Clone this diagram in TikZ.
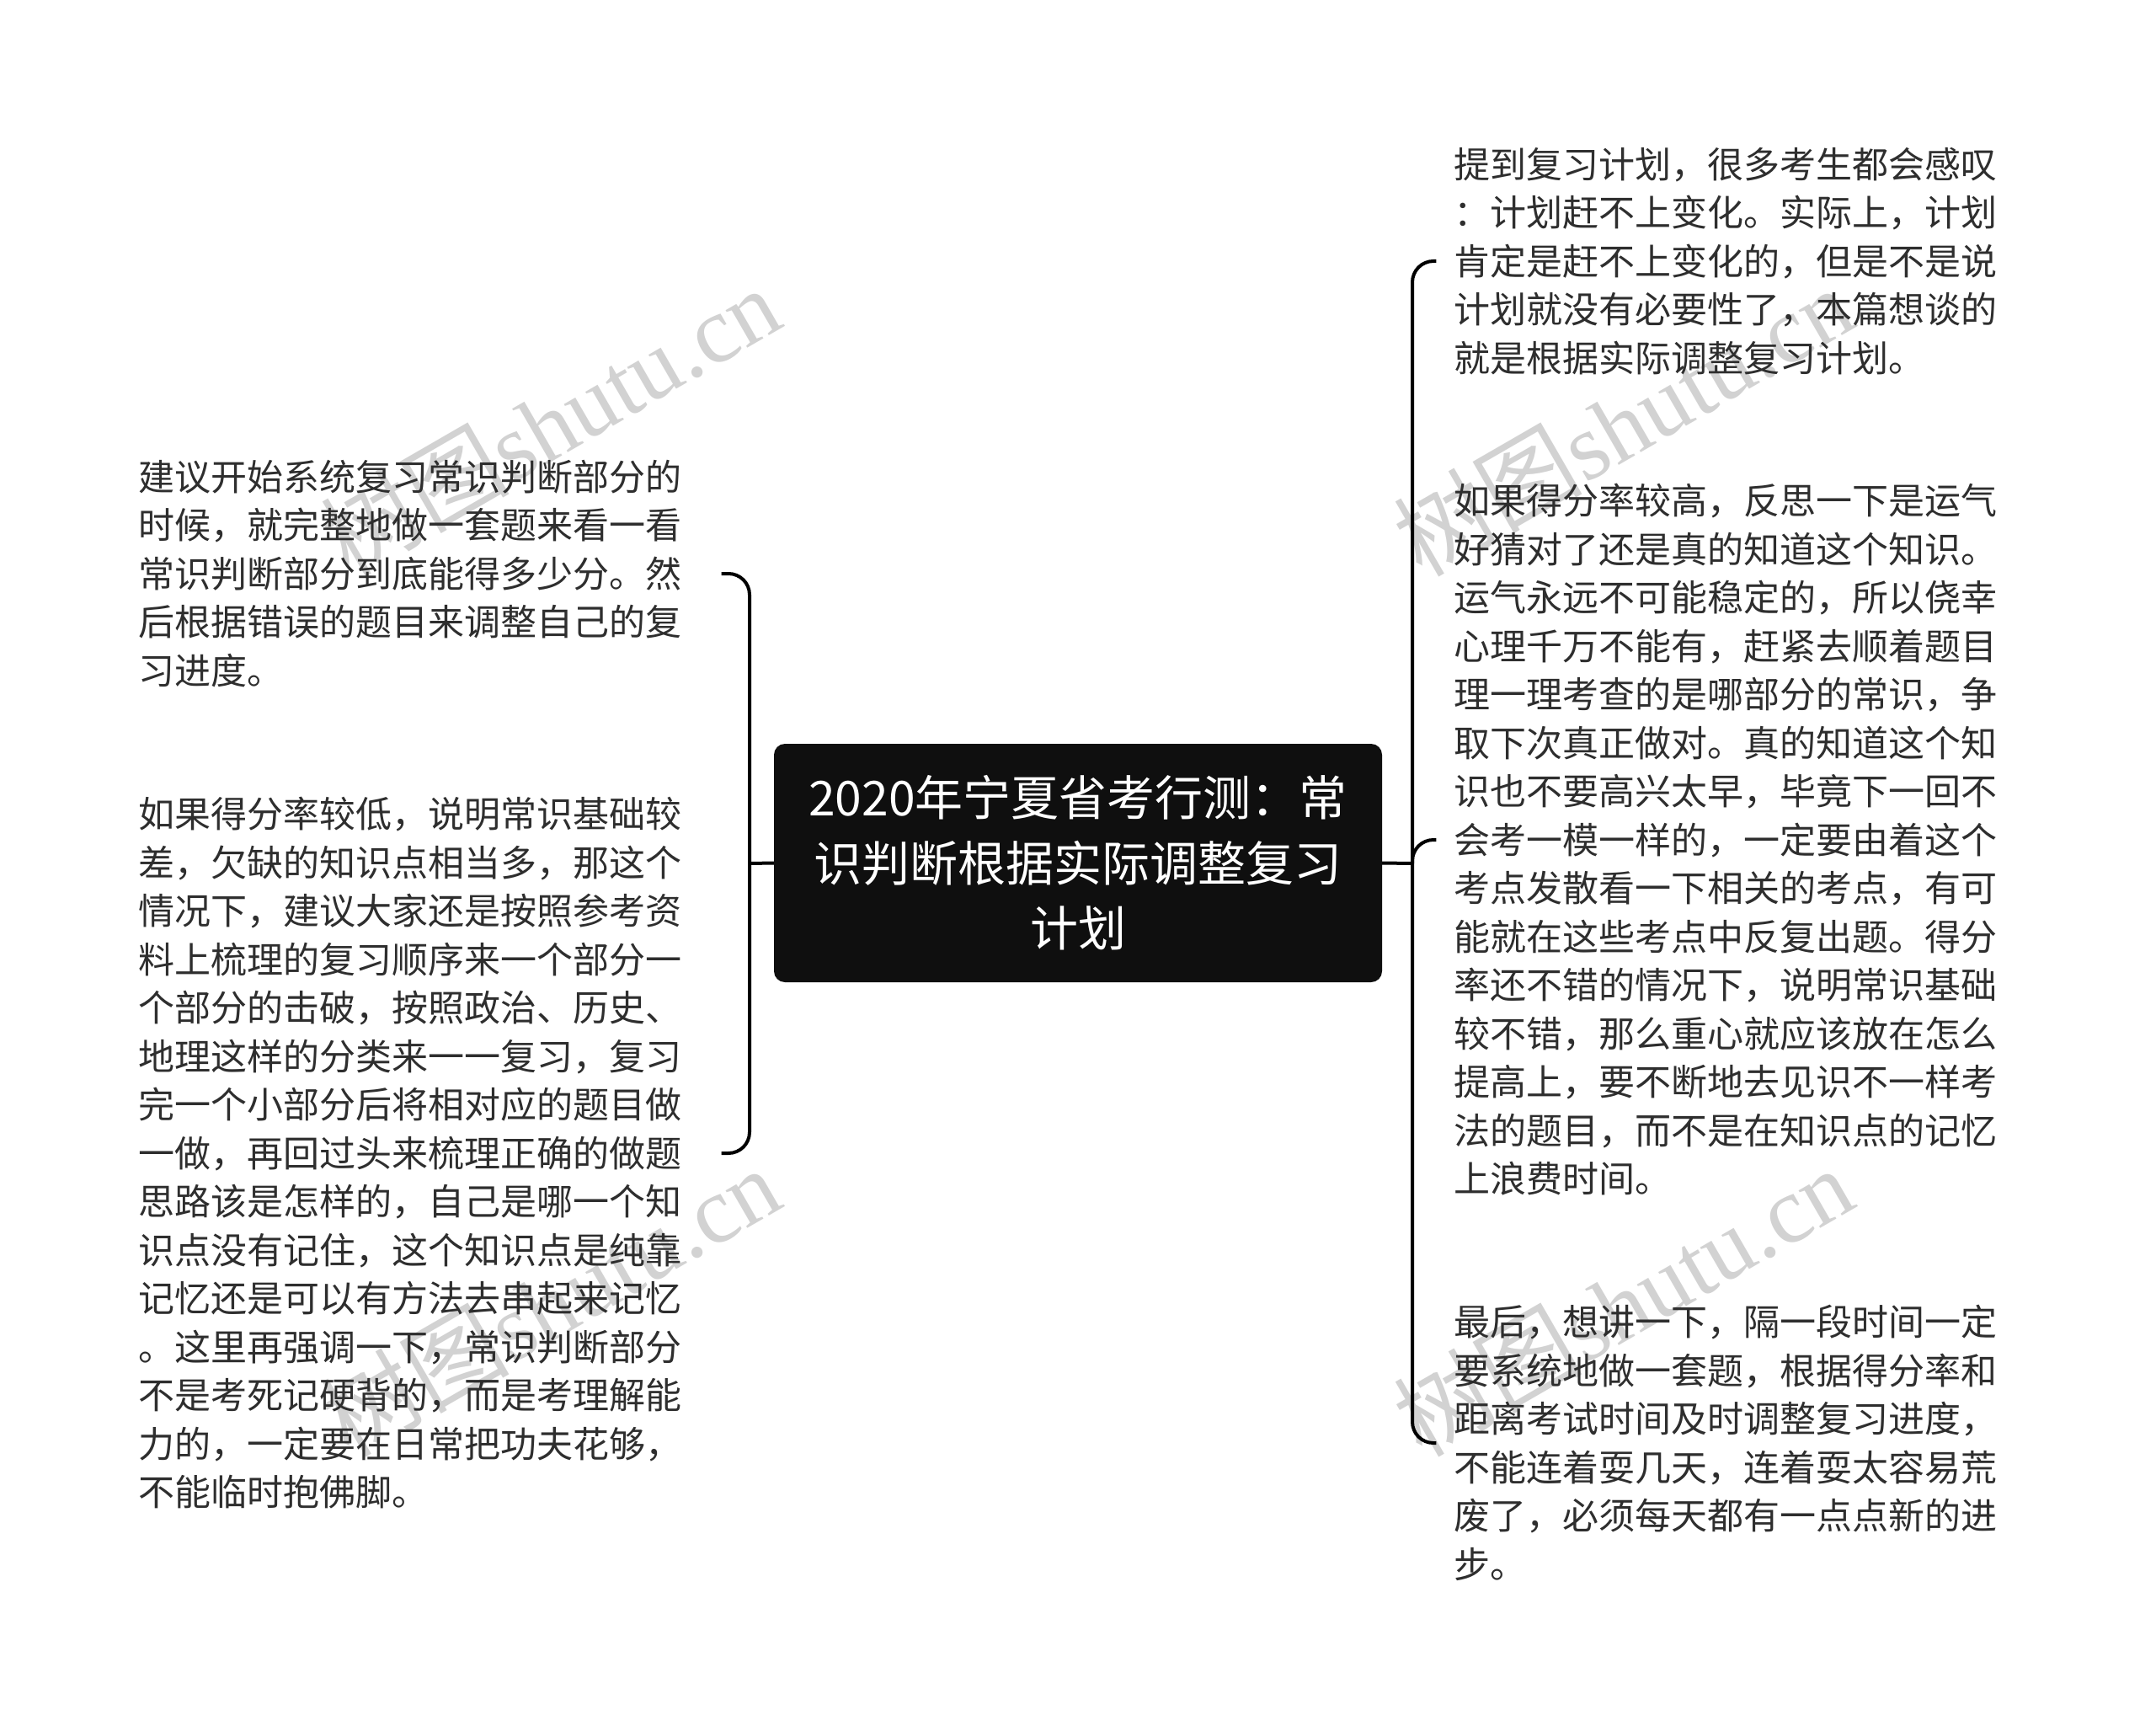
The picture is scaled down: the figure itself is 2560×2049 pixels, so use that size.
\documentclass[tikz,border=0pt]{standalone}
\usepackage{fontspec}
\setmainfont{Noto Sans CJK SC}
\newfontfamily\wmlatin{Liberation Serif}
\definecolor{txt}{HTML}{2E2E2E}
\definecolor{rootfill}{HTML}{0F0F0F}
\definecolor{wmcol}{HTML}{D2D2D2}
\tikzset{
  leaf/.style={align=left, text=txt, inner ysep=0pt, font=\fontsize{43pt}{57.5pt}\selectfont},
  leafL/.style={leaf, inner xsep=47pt},
  leafR/.style={leaf, inner xsep=21pt},
  rootbox/.style={fill=rootfill, text=white, rounded corners=13pt, align=center,
    minimum width=722pt, minimum height=283pt, inner sep=0pt,
    font=\fontsize{57pt}{77.5pt}\selectfont},
  conn/.style={draw=black, line width=4pt},
  bracket/.style={conn, rounded corners=25pt},
  wmark/.style={text=wmcol, rotate=30, inner sep=0pt, font=\fontsize{112pt}{120pt}\selectfont}
}
\begin{document}
\begin{tikzpicture}[x=1pt,y=-1pt]
\fill[white] (0,0) rectangle (2560,2049);
\useasboundingbox (0,0) rectangle (2560,2049);

% watermarks
\node[wmark] (w1) at (653,500) {树图{\wmlatin shutu.cn}};
\node[wmark] (w2) at (653,1545) {树图{\wmlatin shutu.cn}};
\node[wmark] (w3) at (1927,500) {树图{\wmlatin shutu.cn}};
\node[wmark] (w4) at (1927,1545) {树图{\wmlatin shutu.cn}};

% root
\node[rootbox] (root) at (1280,1024.5) {2020年宁夏省考行测：常\\识判断根据实际调整复习\\计划};

% left leaves
\node[leafL] (L1) at (487,681) {建议开始系统复习常识判断部分的\\时候，就完整地做一套题来看一看\\常识判断部分到底能得多少分。然\\后根据错误的题目来调整自己的复\\习进度。};
\node[leafL] (L2) at (487,1369) {如果得分率较低，说明常识基础较\\差，欠缺的知识点相当多，那这个\\情况下，建议大家还是按照参考资\\料上梳理的复习顺序来一个部分一\\个部分的击破，按照政治、历史、\\地理这样的分类来一一复习，复习\\完一个小部分后将相对应的题目做\\一做，再回过头来梳理正确的做题\\思路该是怎样的，自己是哪一个知\\识点没有记住，这个知识点是纯靠\\记忆还是可以有方法去串起来记忆\\。这里再强调一下，常识判断部分\\不是考死记硬背的，而是考理解能\\力的，一定要在日常把功夫花够，\\不能临时抱佛脚。};

% right leaves
\node[leafR] (R1) at (2049,310) {提到复习计划，很多考生都会感叹\\：计划赶不上变化。实际上，计划\\肯定是赶不上变化的，但是不是说\\计划就没有必要性了，本篇想谈的\\就是根据实际调整复习计划。};
\node[leafR] (R2) at (2049,997) {如果得分率较高，反思一下是运气\\好猜对了还是真的知道这个知识。\\运气永远不可能稳定的，所以侥幸\\心理千万不能有，赶紧去顺着题目\\理一理考查的是哪部分的常识，争\\取下次真正做对。真的知道这个知\\识也不要高兴太早，毕竟下一回不\\会考一模一样的，一定要由着这个\\考点发散看一下相关的考点，有可\\能就在这些考点中反复出题。得分\\率还不错的情况下，说明常识基础\\较不错，那么重心就应该放在怎么\\提高上，要不断地去见识不一样考\\法的题目，而不是在知识点的记忆\\上浪费时间。};
\node[leafR] (R3) at (2049,1713) {最后，想讲一下，隔一段时间一定\\要系统地做一套题，根据得分率和\\距离考试时间及时调整复习进度，\\不能连着耍几天，连着耍太容易荒\\废了，必须每天都有一点点新的进\\步。};

% junctions
\coordinate (jL) at (890,1025);
\coordinate (jR) at (1677,1025);

% connectors
\draw[conn] (root.west) -- (jL);
\draw[bracket] (L1.east) -| (jL);
\draw[bracket] (L2.east) -| (jL);
\draw[conn] (root.east) -- (jR);
\draw[bracket] (R1.west) -| (jR);
\draw[bracket] (R2.west) -| (jR);
\draw[bracket] (R3.west) -| (jR);
\end{tikzpicture}
\end{document}
